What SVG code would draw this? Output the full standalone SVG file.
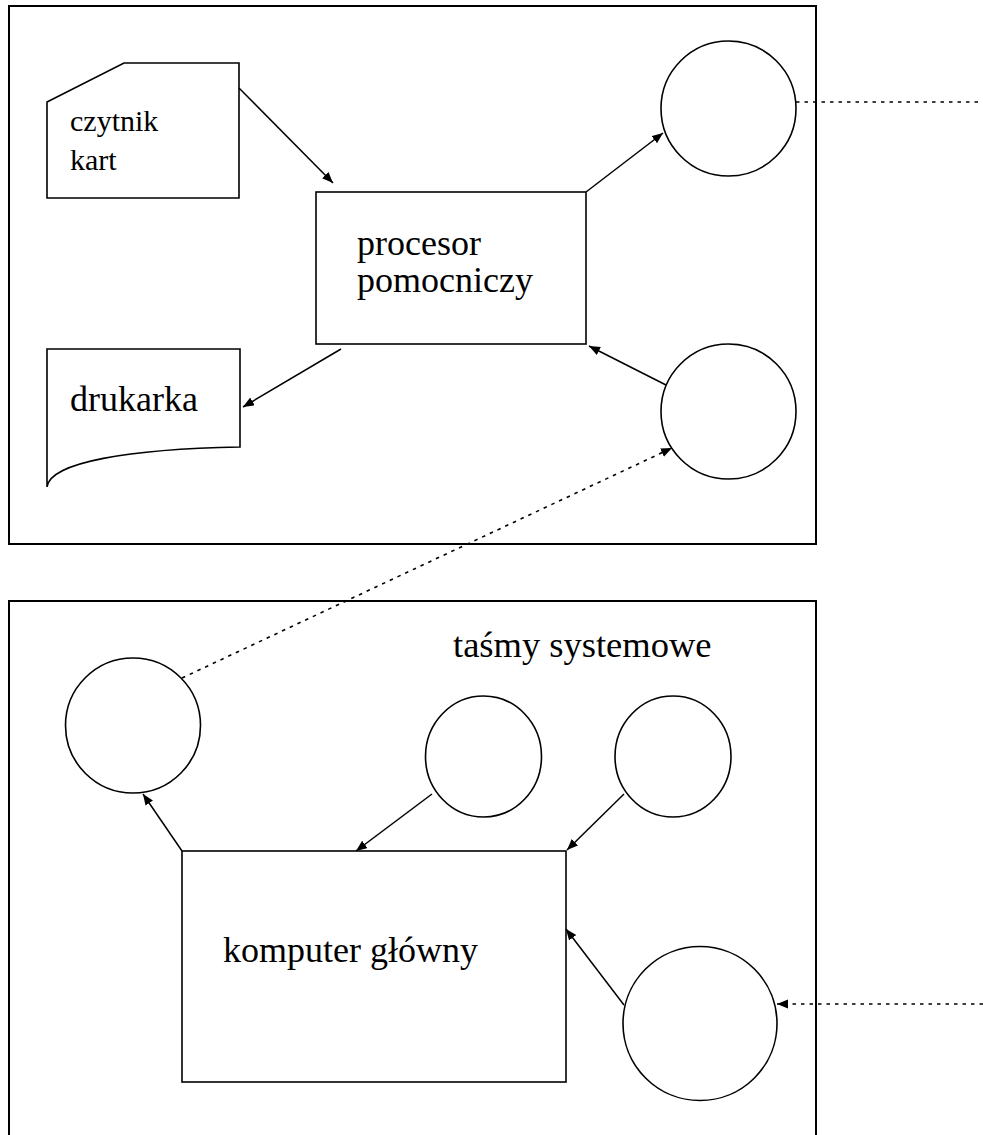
<svg xmlns="http://www.w3.org/2000/svg" width="983" height="1135" viewBox="0 0 983 1135">
<style>
.frame{fill:none;stroke:#000;stroke-width:2}
.shape{fill:#fff;stroke:#000;stroke-width:1.6}
.lbl{fill:#000}
.arr{fill:none;stroke:#000;stroke-width:1.5;marker-end:url(#ah)}
.dot{fill:none;stroke:#000;stroke-width:1.6;stroke-dasharray:3.5 5}
</style>
<defs>
<marker id="ah" markerUnits="userSpaceOnUse" markerWidth="12" markerHeight="10" refX="11" refY="4.5" orient="auto">
<path d="M0,0 L11,4.5 L0,9 Z" fill="#000"/>
</marker>
</defs>
<rect width="983" height="1135" fill="#fff"/>
<g id="frame-top"><rect class="frame" x="9" y="6" width="807" height="538"/></g>
<g id="frame-bottom"><path class="frame" d="M9,1140 L9,601 L816,601 L816,1140"/></g>
<g font-family="Liberation Serif, Tinos, Times New Roman, Times, DejaVu Serif, serif">
<g id="card-reader">
<polygon class="shape" points="47,102 124,63 239,63 239,198 47,198"/>
<text class="lbl" x="70" y="131" font-size="30">czytnik</text>
<text class="lbl" x="70" y="170" font-size="30">kart</text>
</g>
<g id="printer">
<path class="shape" d="M47,349 L240,349 L240,447 C130,449 50,462 47,487 Z"/>
<text class="lbl" x="70" y="411" font-size="36">drukarka</text>
</g>
<g id="processor">
<rect class="shape" x="316" y="192" width="270" height="152"/>
<text class="lbl" x="357" y="255" font-size="36">procesor</text>
<text class="lbl" x="357" y="292" font-size="36">pomocniczy</text>
</g>
<g id="system-tapes-label"><text class="lbl" x="453" y="657" font-size="36.5">taśmy systemowe</text></g>
<g id="main-computer">
<rect class="shape" x="182" y="851" width="384" height="231"/>
<text class="lbl" x="223" y="962" font-size="36">komputer główny</text>
</g>
</g>
<g id="tape-top-out"><circle class="shape" cx="728.5" cy="108.5" r="67.5"/></g>
<g id="tape-top-in"><circle class="shape" cx="728.5" cy="411.5" r="67.5"/></g>
<g id="tape-bottom-left"><circle class="shape" cx="133" cy="725.5" r="67.5"/></g>
<g id="tape-sys-1"><ellipse class="shape" cx="483.5" cy="756.5" rx="58" ry="60.5"/></g>
<g id="tape-sys-2"><ellipse class="shape" cx="673" cy="756.5" rx="58" ry="60.5"/></g>
<g id="tape-bottom-right"><circle class="shape" cx="700" cy="1023.5" r="77"/></g>
<g id="connectors">
<path class="arr" d="M239,88 L333,183"/>
<path class="arr" d="M586,192 L663,133"/>
<path class="arr" d="M666,385 L589,346"/>
<path class="arr" d="M341,349 L243,407"/>
<path class="dot" d="M796,102 L983,102"/>
<path class="dot" d="M182,678 L672,448" marker-end="url(#ah)"/>
<path class="arr" d="M182,851 L143,794"/>
<path class="arr" d="M432,794 L356,851"/>
<path class="arr" d="M624,794 L567,850"/>
<path class="arr" d="M624,1005 L566,929"/>
<path class="dot" d="M983,1004 L777,1004" marker-end="url(#ah)"/>
</g>
</svg>
